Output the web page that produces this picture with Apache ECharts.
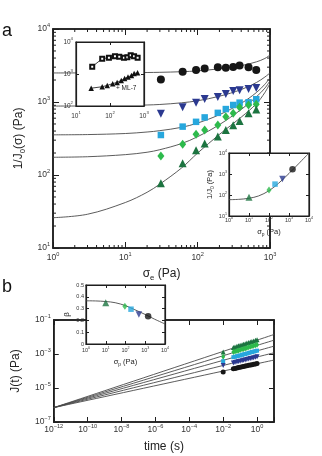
<!DOCTYPE html>
<html>
<head>
<meta charset="utf-8">
<script src="https://cdn.jsdelivr.net/npm/echarts@6/dist/echarts.min.js"></script>
<style>
  html, body { margin: 0; padding: 0; background: #fff; }
  #chart { width: 322px; height: 456px; }
</style>
</head>
<body>
<div id="chart"></div>
<script>
// ---- panel a, main plot: 1/J0 vs sigma_e ----
var sigmaE = [31, 62, 95, 125, 190, 245, 310, 380, 505, 645];
var invJBlack  = [2040, 2600, 2750, 2880, 2990, 2950, 3020, 3160, 2990, 2750];
var invJNavy   = [690, 850, 980, 1100, 1175, 1290, 1410, 1450, 1510, 1550];
var invJCyan   = [353, 460, 535, 615, 710, 800, 910, 980, 990, 1090];
var invJLGreen = [182, 263, 362, 415, 485, 630, 700, 850, 910, 935];
var invJDGreen = [77, 145, 218, 270, 337, 415, 480, 550, 700, 790];

// fit curves
var curveSigma   = [1, 3, 10, 20, 30, 60, 100, 200, 400, 650, 850, 1000];
var curveBlack   = [2500, 2503, 2515, 2535, 2550, 2600, 2670, 2850, 3150, 3550, 3950, 4400];
var curveNavy    = [880, 882, 895, 910, 925, 975, 1040, 1200, 1480, 1850, 2200, 2500];
var curveCyan    = [355, 358, 370, 388, 405, 450, 515, 670, 960, 1350, 1750, 2150];
var curveLGreen  = [175, 178, 190, 205, 222, 270, 335, 490, 790, 1180, 1550, 1950];
var curveDGreen  = [26, 29, 42, 58, 75, 125, 200, 360, 620, 950, 1350, 1800];

// inset 1 (control vs + ML-7)
var ctrlSigma = [30, 59, 93, 140, 187, 257, 324, 406, 510, 650];
var ctrlVal   = [1700, 3000, 3240, 3570, 3460, 3240, 3320, 3830, 3570, 3240];
var ml7Sigma  = [28, 59, 83, 120, 162, 214, 269, 339, 427, 513, 646];
var ml7Val    = [360, 400, 440, 500, 545, 630, 720, 810, 890, 1030, 1100];

// inset 2 (1/J0 vs sigma_p)
var sigmaP      = [10, 100, 200, 470, 1500];
var invJP       = [78, 175, 330, 575, 1700];
var sigmaPCurve = [1, 3, 10, 30, 100, 300, 1000, 3000, 10000];
var invJPCurve  = [60, 62, 70, 90, 160, 360, 1060, 3060, 10000];

// ---- panel b: creep compliance ----
var times    = [0.01, 0.04, 0.05, 0.065, 0.08, 0.1, 0.13, 0.16, 0.2, 0.25, 0.32, 0.4, 0.5, 0.63, 0.8, 1.0];
var jUnit    = 1e-3;
var jDGreen  = [1.32, 2.40, 2.57, 2.82, 3.02, 3.24, 3.55, 3.80, 4.07, 4.37, 4.79, 5.13, 5.50, 5.89, 6.46, 6.92];
var jLGreen  = [0.68, 1.32, 1.41, 1.51, 1.62, 1.74, 1.88, 1.99, 2.13, 2.29, 2.50, 2.68, 2.87, 3.08, 3.30, 3.55];
var jCyan    = [0.38, 0.65, 0.69, 0.74, 0.78, 0.83, 0.89, 0.95, 1.00, 1.07, 1.15, 1.23, 1.31, 1.39, 1.48, 1.58];
var jNavy    = [0.21, 0.30, 0.32, 0.34, 0.36, 0.38, 0.40, 0.43, 0.45, 0.48, 0.51, 0.54, 0.57, 0.60, 0.64, 0.68];
var jBlack   = [0.087, 0.135, 0.141, 0.150, 0.158, 0.166, 0.175, 0.182, 0.194, 0.203, 0.215, 0.224, 0.234, 0.250, 0.261, 0.275];
var fitT     = [1e-12, 10];
var fitStart = 7e-7;
var fitEnd   = [0.0140, 0.0065, 0.0029, 0.00118, 0.00044]; // dgreen, lgreen, cyan, navy, black

// inset b (beta vs sigma_p)
var betaSigma  = [10, 93, 190, 475, 1400];
var betaVal    = [0.35, 0.32, 0.295, 0.25, 0.235];
var betaCurveS = [1, 3, 10, 30, 100, 300, 1000, 3000, 10000];
var betaCurve  = [0.366, 0.365, 0.36, 0.35, 0.325, 0.29, 0.25, 0.21, 0.17];

var INK = '#1e1e1e';
var FONT = 'Liberation Sans, Arial, Helvetica, sans-serif';
// marker styles: black, navy, cyan, light green, dark green
var sty = {
  black:  { color: '#161616', symbol: 'circle',   rot: 0 },
  navy:   { color: '#2b3990', symbol: 'triangle', rot: 180 },
  cyan:   { color: '#27a7dd', symbol: 'rect',     rot: 0 },
  lgreen: { color: '#2dba4c', symbol: 'diamond',  rot: 0 },
  dgreen: { color: '#1c7440', symbol: 'triangle', rot: 0 }
};

function pairs(xs, ys) { return xs.map(function (x, i) { return [x, ys[i]]; }); }
function logPairs(xs, ys, k) {
  return xs.map(function (x, i) { return [Math.log10(x), Math.log10(ys[i] * (k || 1))]; });
}
function sup(e) { return '10{s|' + String(e).replace('-', '\u2212') + '}'; }
function logFmt(v) { return sup(Math.round(Math.log10(v))); }

function axis(o) {
  var fs = o.fs || 8.5;
  var a = {
    gridIndex: o.grid, type: o.type || 'log', logBase: 10,
    min: o.min, max: o.max, position: o.pos, z: o.z || 0,
    axisLine: { show: true, onZero: false, lineStyle: { color: INK, width: o.lw || 1.5 } },
    axisTick: { show: true, inside: true, length: o.tick || 5, lineStyle: { color: INK, width: 1 } },
    minorTick: { show: false },
    splitLine: { show: false },
    axisLabel: {
      show: !!o.labels, fontSize: fs, color: '#333', fontFamily: FONT,
      lineHeight: Math.round(fs * 1.6), margin: o.margin == null ? 4 : o.margin,
      formatter: o.fmt || logFmt,
      rich: { s: { fontSize: fs * 0.66, verticalAlign: 'top', color: '#333', fontFamily: FONT } }
    }
  };
  if (o.interval != null) a.interval = o.interval;
  if (o.name) {
    var nfs = o.nfs || 12;
    a.name = o.name;
    a.nameLocation = 'middle';
    a.nameGap = o.nameGap;
    a.nameTextStyle = {
      fontSize: nfs, color: '#222', fontFamily: FONT, lineHeight: Math.round(nfs * 1.35),
      rich: { sub: { fontSize: nfs * 0.65, verticalAlign: 'bottom', color: '#222', fontFamily: FONT } }
    };
  }
  return a;
}

var xAxes = [
  axis({ grid: 0, min: 1, max: 1000, pos: 'bottom', labels: true, margin: 3, tick: 6,
         name: '\u03c3{sub|e} (Pa)', nameGap: 12 }),
  axis({ grid: 0, min: 1, max: 1000, pos: 'top', tick: 6 }),
  axis({ grid: 1, min: 10, max: 1000, pos: 'bottom', labels: true, fs: 6.5, margin: 5, z: 6, lw: 1.2, tick: 3 }),
  axis({ grid: 1, min: 10, max: 1000, pos: 'top', z: 6, lw: 1.2, tick: 3 }),
  axis({ grid: 2, min: 1, max: 10000, pos: 'bottom', labels: true, fs: 5.5, margin: 0, z: 6, lw: 1.2, tick: 3,
         name: '\u03c3{sub|p} (Pa)', nameGap: 11, nfs: 7.5 }),
  axis({ grid: 2, min: 1, max: 10000, pos: 'top', z: 6, lw: 1.2, tick: 3 }),
  axis({ grid: 3, min: 1, max: 10000, pos: 'bottom', labels: true, fs: 5.5, margin: 2, z: 6, lw: 1.2, tick: 3,
         name: '\u03c3{sub|p} (Pa)', nameGap: 13, nfs: 7.5 }),
  axis({ grid: 3, min: 1, max: 10000, pos: 'top', z: 6, lw: 1.2, tick: 3 }),
  axis({ grid: 4, type: 'value', min: -12, max: 1, interval: 2, pos: 'bottom', labels: true, margin: 1, tick: 5,
         fmt: function (v) { return Math.round(v) % 2 === 0 ? sup(Math.round(v)) : ''; },
         name: 'time (s)', nameGap: 17 }),
  axis({ grid: 4, type: 'value', min: -12, max: 1, interval: 2, pos: 'top', tick: 5 })
];

var yAxes = [
  axis({ grid: 0, min: 10, max: 10000, pos: 'left', labels: true, margin: 3, tick: 6,
         name: '1/J{sub|0}(\u03c3) (Pa)', nameGap: 19 }),
  axis({ grid: 0, min: 10, max: 10000, pos: 'right', tick: 6 }),
  axis({ grid: 1, min: 100, max: 10000, pos: 'left', labels: true, fs: 6.5, margin: 3, z: 6, lw: 1.2, tick: 3 }),
  axis({ grid: 1, min: 100, max: 10000, pos: 'right', z: 6, lw: 1.2, tick: 3 }),
  axis({ grid: 2, min: 10, max: 10000, pos: 'left', labels: true, fs: 5.5, margin: 2, z: 6, lw: 1.2, tick: 3,
         name: '1/J{sub|0} (Pa)', nameGap: 13, nfs: 7.5 }),
  axis({ grid: 2, min: 10, max: 10000, pos: 'right', z: 6, lw: 1.2, tick: 3 }),
  axis({ grid: 3, type: 'value', min: 0, max: 0.5, interval: 0.1, pos: 'left', labels: true, fs: 5.5, margin: 2,
         z: 6, lw: 1.2, tick: 3, fmt: function (v) { return v === 0 ? '0' : v.toFixed(1); },
         name: '\u03b2', nameGap: 14, nfs: 8 }),
  axis({ grid: 3, type: 'value', min: 0, max: 0.5, interval: 0.1, pos: 'right', z: 6, lw: 1.2, tick: 3 }),
  axis({ grid: 4, type: 'value', min: -7, max: -1, interval: 2, pos: 'left', labels: true, margin: 3, tick: 5,
         fmt: function (v) { return sup(Math.round(v)); },
         name: 'J(t) (Pa)', nameGap: 20 }),
  axis({ grid: 4, type: 'value', min: -7, max: -1, interval: 2, pos: 'right', tick: 5 })
];

var series = [];
function curve(xi, yi, data, z) {
  series.push({ type: 'line', xAxisIndex: xi, yAxisIndex: yi, data: data, smooth: 0.35,
    showSymbol: false, silent: true, z: z, lineStyle: { color: '#4a4a4a', width: 0.9 } });
}
function dots(xi, yi, data, s, size, z) {
  series.push({ type: 'scatter', xAxisIndex: xi, yAxisIndex: yi, data: data, symbol: s.symbol,
    symbolRotate: s.rot, symbolSize: size, silent: true, z: z, itemStyle: { color: s.color, opacity: 1 } });
}

// panel a main
[curveBlack, curveNavy, curveCyan, curveLGreen, curveDGreen].forEach(function (c) {
  curve(0, 0, pairs(curveSigma, c), 2);
});
dots(0, 0, pairs(sigmaE, invJBlack), sty.black, 8, 3);
dots(0, 0, pairs(sigmaE, invJNavy), sty.navy, 8, 3);
dots(0, 0, pairs(sigmaE, invJCyan), sty.cyan, 6.5, 3);
dots(0, 0, pairs(sigmaE, invJLGreen), sty.lgreen, [7, 9], 3);
dots(0, 0, pairs(sigmaE, invJDGreen), sty.dgreen, 8, 3);

// log-spaced minor ticks on the main frame of panel a
var minorX = [], minorY = [];
[1, 10, 100].forEach(function (d) { for (var k = 2; k <= 9; k++) minorX.push(k * d); });
[10, 100, 1000].forEach(function (d) { for (var k = 2; k <= 9; k++) minorY.push(k * d); });
function tickLine(x1, y1, x2, y2) {
  return { type: 'line', shape: { x1: x1, y1: y1, x2: x2, y2: y2 }, style: { stroke: INK, lineWidth: 1 } };
}
series.push({
  type: 'custom', xAxisIndex: 0, yAxisIndex: 0, silent: true, z: 1,
  data: minorX.map(function (v) { return [v, 10]; }),
  renderItem: function (params, api) {
    var v = api.value(0);
    var b = api.coord([v, 10]), t = api.coord([v, 10000]);
    return { type: 'group', children: [tickLine(b[0], b[1], b[0], b[1] - 3), tickLine(t[0], t[1], t[0], t[1] + 3)] };
  }
});
series.push({
  type: 'custom', xAxisIndex: 0, yAxisIndex: 0, silent: true, z: 1,
  data: minorY.map(function (v) { return [1, v]; }),
  renderItem: function (params, api) {
    var v = api.value(1);
    var l = api.coord([1, v]), r = api.coord([1000, v]);
    return { type: 'group', children: [tickLine(l[0], l[1], l[0] + 3, l[1]), tickLine(r[0], r[1], r[0] - 3, r[1])] };
  }
});

// inset 1
series.push({ type: 'line', xAxisIndex: 2, yAxisIndex: 2, data: pairs(ctrlSigma, ctrlVal), z: 7, silent: true,
  symbol: 'emptyRect', symbolSize: 4, showSymbol: true, lineStyle: { color: '#111', width: 0.8 },
  itemStyle: { color: '#111', borderColor: '#111', borderWidth: 0.8 } });
series.push({ type: 'line', xAxisIndex: 2, yAxisIndex: 2, data: pairs(ml7Sigma, ml7Val), z: 7, silent: true,
  symbol: 'triangle', symbolSize: 5.5, showSymbol: true, lineStyle: { color: '#111', width: 0.8 },
  itemStyle: { color: '#111' } });

// inset 2
var insetOrder = [sty.dgreen, sty.lgreen, sty.cyan, sty.navy, sty.black];
var insetSize = [7, [5, 7], 5.5, 6.5, 6.5];
curve(4, 4, pairs(sigmaPCurve, invJPCurve), 7);
series.push({ type: 'scatter', xAxisIndex: 4, yAxisIndex: 4, z: 8, silent: true,
  data: sigmaP.map(function (s, i) {
    var m = insetOrder[i];
    return { value: [s, invJP[i]], symbol: m.symbol, symbolRotate: m.rot, symbolSize: insetSize[i], itemStyle: { color: m.color } };
  }) });

// inset b
curve(6, 6, pairs(betaCurveS, betaCurve), 7);
series.push({ type: 'scatter', xAxisIndex: 6, yAxisIndex: 6, z: 8, silent: true,
  data: betaSigma.map(function (s, i) {
    var m = insetOrder[i];
    return { value: [s, betaVal[i]], symbol: m.symbol, symbolRotate: m.rot, symbolSize: insetSize[i], itemStyle: { color: m.color } };
  }) });

// panel b main
fitEnd.forEach(function (e) { curve(8, 8, logPairs(fitT, [fitStart, e]), 2); });
dots(8, 8, logPairs(times, jDGreen, jUnit), sty.dgreen, 5, 3);
dots(8, 8, logPairs(times, jLGreen, jUnit), sty.lgreen, [4, 6], 3);
dots(8, 8, logPairs(times, jCyan, jUnit), sty.cyan, 4, 3);
dots(8, 8, logPairs(times, jNavy, jUnit), sty.navy, 5, 3);
dots(8, 8, logPairs(times, jBlack, jUnit), sty.black, 5, 3);

var chart = echarts.init(document.getElementById('chart'));
chart.setOption({
  animation: false,
  backgroundColor: '#fff',
  textStyle: { fontFamily: FONT },
  grid: [
    { left: 53, top: 29, width: 217, height: 219, show: true, borderColor: INK, borderWidth: 1.5, backgroundColor: 'transparent' },
    { left: 76, top: 42, width: 68, height: 64, show: true, borderColor: INK, borderWidth: 1.2, backgroundColor: '#fff', z: 5 },
    { left: 229, top: 153, width: 80, height: 63, show: true, borderColor: INK, borderWidth: 1.2, backgroundColor: '#fff', z: 5 },
    { left: 86, top: 285, width: 79, height: 59, show: true, borderColor: INK, borderWidth: 1.2, backgroundColor: '#fff', z: 5 },
    { left: 53, top: 320, width: 221, height: 103, show: true, borderColor: INK, borderWidth: 1.5, backgroundColor: 'transparent' }
  ],
  xAxis: xAxes,
  yAxis: yAxes,
  series: series,
  graphic: [
    { type: 'text', x: 2, y: 31, z: 20, style: { text: 'a', fontSize: 18, fontFamily: FONT, fill: '#111', verticalAlign: 'middle' } },
    { type: 'text', x: 2, y: 287, z: 20, style: { text: 'b', fontSize: 18, fontFamily: FONT, fill: '#111', verticalAlign: 'middle' } },
    { type: 'text', x: 116, y: 88, z: 20, style: { text: '+ ML-7', fontSize: 6.5, fontFamily: FONT, fill: '#222', verticalAlign: 'middle' } }
  ]
});
</script>
</body>
</html>
